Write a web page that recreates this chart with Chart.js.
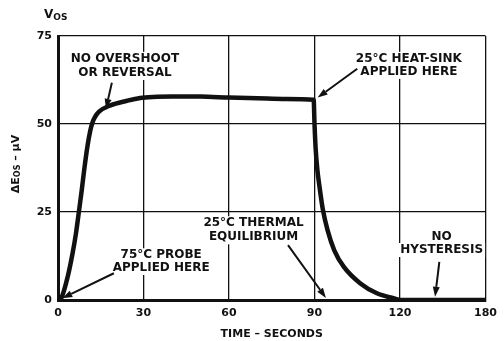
<!DOCTYPE html>
<html>
<head>
<meta charset="utf-8">
<script src="https://cdn.jsdelivr.net/npm/chart.js@4.4.1/dist/chart.umd.min.js"></script>
<style>
    html, body { margin: 0; padding: 0; background: #ffffff; }
    #wrap { width: 504px; height: 341px; position: relative; }
</style>
</head>
<body>
<div id="wrap"><canvas id="vosChart"></canvas></div>
<script>
// ---------------- Datos ----------------

const timeSeconds = [0, 1.1, 3.4, 5.1, 6.3, 7.4, 8.3, 9.2, 10.3, 11.3, 12.1, 13, 14.4, 18.4, 24.2, 28.8, 33.4,
    40, 50, 60, 70, 80, 89.7, 90, 90.4, 91, 91.7, 92.9, 94.6, 96.9, 100.3, 106.1,
    111.9, 117.7, 120.3, 135, 150];
const deltaEosMicrovolts = [0, 0.5, 6.6, 13.2, 18.9, 25.5, 31, 37, 43.5, 48, 50.4, 52, 53.5, 55.3, 56.6, 57.4, 57.7,
    57.8, 57.8, 57.5, 57.3, 57.1, 56.9, 50, 43, 37, 32.5, 25.8, 19.8, 14.2, 9.4, 4.7,
    1.9, 0.5, 0, 0, 0];

const xTickLabels = ['0', '30', '60', '90', '120', '180'];
const yTickValues = [0, 25, 50, 75];

// notas: texto (t, v por línea) y flecha (desde -> hasta), en unidades de datos
const notes = [
    { lines: ['NO OVERSHOOT', 'OR REVERSAL'], t: 23.5, v: [68.5, 64.5], from: [18.9, 61.7], to: [16.8, 54.3] },
    { lines: ['25°C HEAT-SINK', 'APPLIED HERE'], t: 123.1, v: [68.5, 64.8], from: [105, 65.7], to: [91.1, 57.5] },
    { lines: ['75°C PROBE', 'APPLIED HERE'], t: 36.2, v: [12.7, 9.1], from: [19.6, 7.6], to: [1.5, 0.5] },
    { lines: ['25°C THERMAL', 'EQUILIBRIUM'], t: 68.6, v: [21.8, 17.8], from: [80.7, 15.6], to: [94, 0.6] },
    { lines: ['NO', 'HYSTERESIS'], t: 134.6, v: [17.8, 14.2], from: [133.8, 10.8], to: [132.3, 0.9] }
];

const FONT = '"DejaVu Sans", Arial, sans-serif';
const INK = '#111111';

// ---------------- Plugin de notas y títulos ----------------

function drawArrow(ctx, x1, y1, x2, y2) {
    const ang = Math.atan2(y2 - y1, x2 - x1);
    const head = 10;
    const bx = x2 - head * Math.cos(ang);
    const by = y2 - head * Math.sin(ang);
    ctx.beginPath();
    ctx.moveTo(x1, y1);
    ctx.lineTo(bx, by);
    ctx.lineWidth = 2;
    ctx.strokeStyle = INK;
    ctx.stroke();
    ctx.beginPath();
    ctx.moveTo(x2, y2);
    ctx.lineTo(bx + 3.5 * Math.sin(ang), by - 3.5 * Math.cos(ang));
    ctx.lineTo(bx - 3.5 * Math.sin(ang), by + 3.5 * Math.cos(ang));
    ctx.closePath();
    ctx.fillStyle = INK;
    ctx.fill();
}

function drawSubText(ctx, x, y, main, sub, size) {
    ctx.font = 'bold ' + size + 'px ' + FONT;
    ctx.fillText(main, x, y);
    const w = ctx.measureText(main).width;
    ctx.font = 'bold ' + Math.round(size * 0.72) + 'px ' + FONT;
    ctx.fillText(sub, x + w, y + size * 0.22);
    return w + ctx.measureText(sub).width;
}

const notesPlugin = {
    id: 'notes',
    beforeDatasetsDraw(chart) {
        const { ctx, scales: { x, y } } = chart;
        ctx.save();
        ctx.font = 'bold 12px ' + FONT;
        ctx.textAlign = 'center';
        ctx.textBaseline = 'middle';
        notes.forEach(n => {
            n.lines.forEach((txt, i) => {
                const px = x.getPixelForValue(n.t);
                const py = y.getPixelForValue(n.v[i]);
                const w = ctx.measureText(txt).width;
                ctx.fillStyle = '#ffffff';
                ctx.fillRect(px - w / 2 - 2, py - 7, w + 4, 14);
                ctx.fillStyle = INK;
                ctx.fillText(txt, px, py);
            });
            drawArrow(ctx,
                x.getPixelForValue(n.from[0]), y.getPixelForValue(n.from[1]),
                x.getPixelForValue(n.to[0]), y.getPixelForValue(n.to[1]));
        });
        ctx.restore();
    },
    afterDraw(chart) {
        const { ctx, chartArea } = chart;
        ctx.save();
        ctx.fillStyle = INK;
        ctx.textAlign = 'left';
        ctx.textBaseline = 'middle';
        // V_OS arriba del eje
        drawSubText(ctx, 44, 15, 'V', 'OS', 12);
        // título del eje Y girado
        ctx.translate(16, (chartArea.top + chartArea.bottom) / 2 - 4);
        ctx.rotate(-Math.PI / 2);
        ctx.font = 'bold 11px ' + FONT;
        const part1 = 'ΔE';
        const w1 = ctx.measureText(part1).width;
        ctx.font = 'bold 8px ' + FONT;
        const w2 = ctx.measureText('OS').width;
        ctx.font = 'bold 11px ' + FONT;
        const w3 = ctx.measureText(' – μV').width;
        const start = -(w1 + w2 + w3) / 2;
        const used = drawSubText(ctx, start, 0, part1, 'OS', 11);
        ctx.font = 'bold 11px ' + FONT;
        ctx.fillText(' – μV', start + used, 0);
        ctx.restore();
    }
};

// ---------------- Gráfica ----------------

function renderVosChart() {
    const ctx = document.getElementById('vosChart');

    new Chart(ctx, {
        type: 'line',
        data: {
            datasets: [{
                data: timeSeconds.map((t, i) => ({ x: t, y: deltaEosMicrovolts[i] })),
                borderColor: INK,
                borderWidth: 4.5,
                pointRadius: 0,
                fill: false,
                cubicInterpolationMode: 'monotone',
                borderCapStyle: 'round',
                borderJoinStyle: 'round'
            }]
        },
        options: {
            responsive: true,
            maintainAspectRatio: false,
            animation: false,
            layout: { padding: { left: 0, top: 36, right: 7, bottom: 0 } },
            plugins: {
                legend: { display: false },
                tooltip: { enabled: false },
                title: { display: false }
            },
            scales: {
                x: {
                    type: 'linear',
                    min: 0,
                    max: 150,
                    afterFit: s => { s.height = 41; },
                    afterBuildTicks: s => { s.ticks = [0, 30, 60, 90, 120, 150].map(v => ({ value: v })); },
                    ticks: {
                        color: INK,
                        padding: 7,
                        font: { family: FONT, size: 11, weight: 'bold' },
                        maxRotation: 0,
                        callback: (v, i) => xTickLabels[i]
                    },
                    grid: { color: INK, lineWidth: 1.3, drawTicks: false },
                    border: { color: INK, width: 3 },
                    title: {
                        display: true,
                        text: 'TIME – SECONDS',
                        color: INK,
                        font: { family: FONT, size: 11, weight: 'bold' },
                        padding: { top: 8, bottom: 0 }
                    }
                },
                y: {
                    min: 0,
                    max: 75,
                    afterFit: s => { s.width = 58; },
                    afterBuildTicks: s => { s.ticks = yTickValues.map(v => ({ value: v })); },
                    ticks: {
                        color: INK,
                        padding: 6,
                        font: { family: FONT, size: 11, weight: 'bold' }
                    },
                    grid: { color: INK, lineWidth: 1.3, drawTicks: false },
                    border: { color: INK, width: 3 }
                }
            }
        },
        plugins: [notesPlugin]
    });
}

renderVosChart();
</script>
</body>
</html>
